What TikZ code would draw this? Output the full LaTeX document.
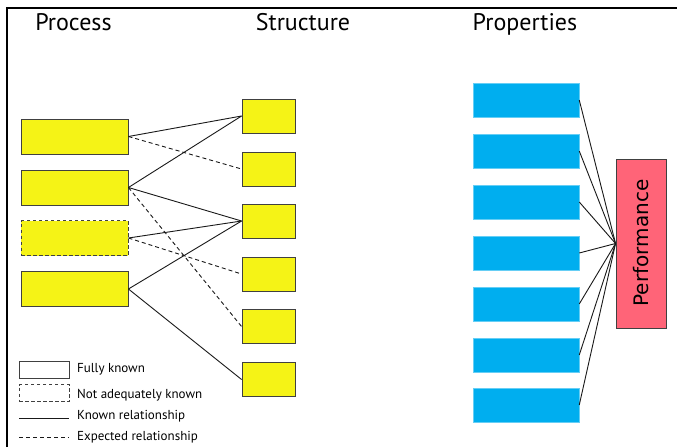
\documentclass[tikz,border=0pt]{standalone}
\usepackage{fontspec}
\setmainfont{PT Sans}
\newfontfamily\perffont{DejaVu Sans}
\begin{document}
\begin{tikzpicture}[x=1pt,y=-1pt,
  procbox/.style={draw=black!75,line width=0.9pt,fill=yellowbox,minimum width=107pt,minimum height=35pt,inner sep=0pt},
  strbox/.style={draw=black!75,line width=0.9pt,fill=yellowbox,minimum width=53pt,minimum height=34pt,inner sep=0pt},
  propbox/.style={draw=cyan!60,line width=0.5pt,fill=bluebox,minimum width=106pt,minimum height=34pt,inner sep=0pt},
  uncertain/.style={dash pattern=on 3.5pt off 2.5pt},
  link/.style={draw=black!90,line width=0.9pt},
  expected/.style={link,dash pattern=on 4pt off 3pt},
  title/.style={font=\fontsize{24}{28}\selectfont,anchor=base},
  legend/.style={font=\fontsize{13}{15}\selectfont,anchor=west,inner sep=0pt}]
\definecolor{yellowbox}{HTML}{F5F316}
\definecolor{bluebox}{HTML}{00AEEF}
\definecolor{perfbox}{HTML}{FF6478}
\useasboundingbox (0,0) rectangle (677,447);
\fill[white] (0,0) rectangle (677,447);

% frame
\draw[line width=2pt] (7,447) -- (7,8) -- (677,8);

% column titles
\node[title] (tproc) at (73.5,30) {Process};
\node[title] (tstr) at (303,30) {Structure};
\node[title] (tprop) at (525,30) {Properties};

% process boxes
\node[procbox] (p1) at (74.5,136.5) {};
\node[procbox] (p2) at (74.5,187.5) {};
\node[procbox,uncertain] (p3) at (74.5,238) {};
\node[procbox] (p4) at (74.5,289) {};

% structure boxes
\foreach \i/\y in {1/116,2/169,3/221,4/274,5/326.5,6/379.5}
  \node[strbox] (s\i) at (268.5,\y) {};

% property boxes
\foreach \i/\y in {1/100,2/151,3/202,4/253,5/304,6/355,7/405}
  \node[propbox] (q\i) at (526,\y) {};

% performance
\node[draw=black!75,line width=0.9pt,fill=perfbox,minimum width=50pt,minimum height=169pt,inner sep=0pt] (perf) at (641,243.5) {};
\node[rotate=90,font=\perffont\fontsize{20}{24}\selectfont] (perftext) at (641,243) {Performance};

% process-structure relationships
\draw[link] (p1.east) -- (s1.west);
\draw[expected] (p1.east) -- (s2.west);
\draw[link] (p2.east) -- (s1.west);
\draw[link] (p2.east) -- (s3.west);
\draw[expected] (p2.east) -- (s5.west);
\draw[link] (p3.east) -- (s3.west);
\draw[expected] (p3.east) -- (s4.west);
\draw[link] (p4.east) -- (s3.west);
\draw[link] (p4.east) -- (s6.west);

% properties-performance
\foreach \i in {1,...,7}
  \draw[link] (q\i.east) -- (perf.west);

% legend
\node[draw=black!75,line width=0.8pt,minimum width=50pt,minimum height=17pt,inner sep=0pt] (lg1) at (44,369.5) {};
\node[legend] (lt1) at (77,369) {Fully known};
\node[draw=black!75,line width=0.8pt,uncertain,minimum width=50pt,minimum height=17pt,inner sep=0pt] (lg2) at (44,393) {};
\node[legend] (lt2) at (77,395) {Not adequately known};
\coordinate (l3a) at (19,418);
\coordinate (l3b) at (69,418);
\draw[link] (l3a) -- (l3b);
\node[legend] (lt3) at (77,416) {Known relationship};
\coordinate (l4a) at (19,437);
\coordinate (l4b) at (69,437);
\draw[expected] (l4a) -- (l4b);
\node[legend] (lt4) at (77,437) {Expected relationship};
\end{tikzpicture}
\end{document}
